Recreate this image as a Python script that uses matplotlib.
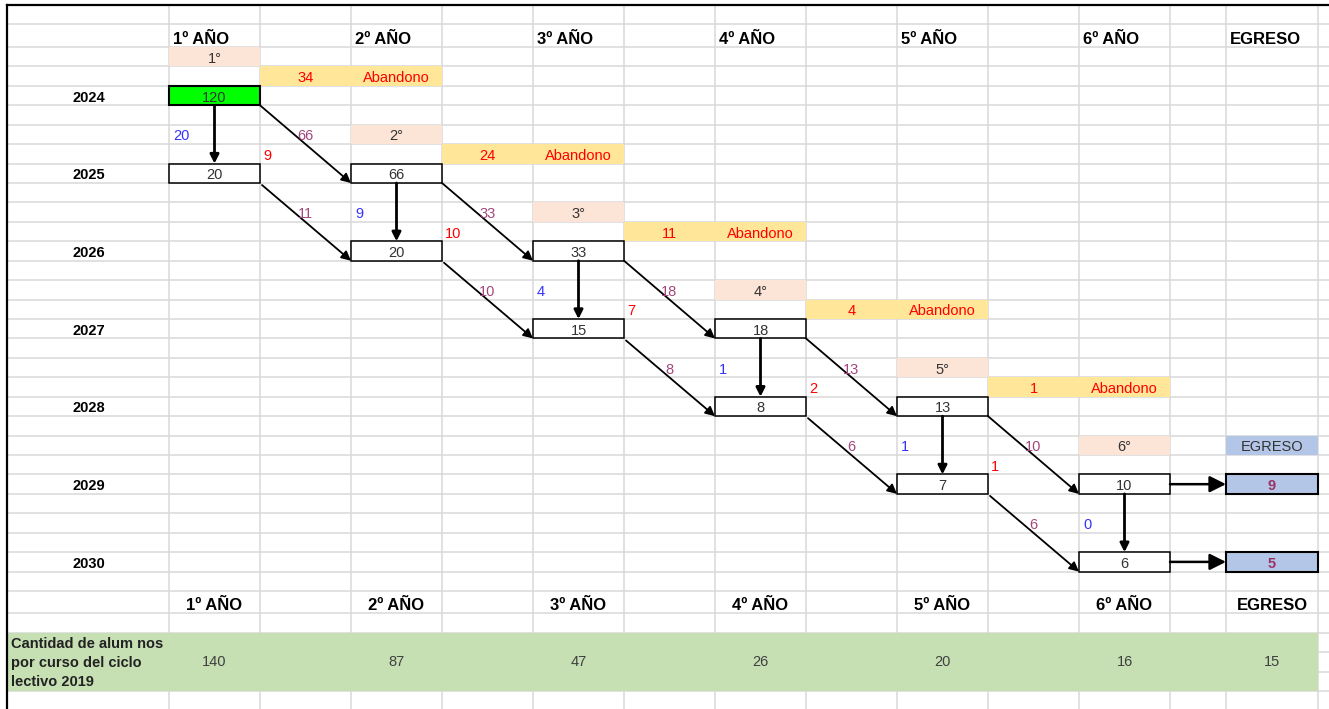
import matplotlib.pyplot as plt
from matplotlib.patches import Rectangle
import numpy as np

plt.rcParams['font.family'] = ['Liberation Sans', 'DejaVu Sans']

years = ['2024', '2025', '2026', '2027', '2028', '2029', '2030']
headers = ['1º AÑO', '2º AÑO', '3º AÑO', '4º AÑO', '5º AÑO', '6º AÑO', 'EGRESO']
courses = ['1°', '2°', '3°', '4°', '5°', '6°']

# alumnos que llegan a cada curso por primera vez (diagonal de la cohorte)
cohort = [120, 66, 33, 18, 13, 10]
# alumnos que recursan el mismo año al ciclo siguiente
repeaters = [20, 20, 15, 8, 7, 6]
# flujos entre cajas
repeat_flow = [20, 9, 4, 1, 1, 0]
promoted_flow = [66, 33, 18, 13, 10]
promoted_rep_flow = [11, 10, 8, 6, 6]
dropout_rep = [9, 10, 7, 2, 1]
dropout = [34, 24, 11, 4, 1]
graduates = [9, 5]
totals_label = ['Cantidad de alum nos', 'por curso del ciclo', 'lectivo 2019']
totals_2019 = [140, 87, 47, 26, 20, 16, 15]

# spreadsheet grid (pixels)
col_w = [161] + [91] * 11 + [56, 92, 30]
row_h = [19, 23] + [19.43] * 28 + [22, 20] + [19.33] * 3 + [22]
xe = 8 + np.concatenate([[0], np.cumsum(col_w)])
ye = 5 + np.concatenate([[0], np.cumsum(row_h)])

GRID = '#D9D9D9'
PEACH = '#FCE4D6'
YELLOW = '#FFE699'
GREEN = '#C6E0B4'
LBLUE = '#B4C6E7'
RED = '#FF0000'
BLUE = '#3333FF'
PURPLE = '#A3467D'
DARK = '#333333'

fig = plt.figure(figsize=(13.29, 7.09), dpi=100)
ax = fig.add_axes([0, 0, 1, 1])
ax.set_xlim(0, 1329)
ax.set_ylim(709, 0)
ax.axis('off')

for x in xe[1:]:
    ax.plot([x, x], [5, 709], color=GRID, lw=1.1, zorder=0)
for y in ye[1:]:
    ax.plot([8, 1329], [y, y], color=GRID, lw=1.1, zorder=0)
ax.plot([7, 1329], [5, 5], color='black', lw=1.6, zorder=5)
ax.plot([7, 7], [5, 709], color='black', lw=1.6, zorder=5)


def mid(a, b):
    return (a + b) / 2


def fill(c, r, color, nc=1, nr=1):
    ax.add_patch(Rectangle((xe[c], ye[r]), xe[c + nc] - xe[c], ye[r + nr] - ye[r],
                           fc=color, ec='none', zorder=1))


def label(c, r, s, ha='center', nc=1, pad=4, dy=2, **kw):
    x = mid(xe[c], xe[c + nc]) if ha == 'center' else xe[c] + pad
    kw.setdefault('fontsize', 10.5)
    kw.setdefault('color', DARK)
    ax.text(x, mid(ye[r], ye[r + 1]) + dy, s, ha=ha, va='center', zorder=6, **kw)


def box(c, r, val, fc='white', lw=1.1, **kw):
    ax.add_patch(Rectangle((xe[c], ye[r]), xe[c + 1] - xe[c], ye[r + 1] - ye[r],
                           fc=fc, ec='black', lw=lw, zorder=3))
    label(c, r, str(val), **kw)


def arrow(p0, p1, lw=1.3, style='-|>', ms=14):
    ax.annotate('', xy=p1, xytext=p0, zorder=4,
                arrowprops=dict(arrowstyle=style, lw=lw, color='black',
                                shrinkA=0, shrinkB=0, mutation_scale=ms))


# headers and year labels
for i, h in enumerate(headers):
    c = 2 * i + 1 if i < 6 else 13
    label(c, 1, h, ha='left', dy=4, fontsize=12, fontweight='bold', color='black')
    label(c, 30, h, dy=3.5, fontsize=12, fontweight='bold', color='black')
for k, yr in enumerate(years):
    label(0, 4 + 4 * k, yr, fontweight='bold', color='black')

# course tags and dropout bands
for i, cs in enumerate(courses):
    fill(2 * i + 1, 2 + 4 * i, PEACH)
    label(2 * i + 1, 2 + 4 * i, cs)
for i, d in enumerate(dropout):
    fill(2 * i + 2, 3 + 4 * i, YELLOW, nc=2)
    label(2 * i + 2, 3 + 4 * i, str(d), color=RED)
    label(2 * i + 3, 3 + 4 * i, 'Abandono', color=RED)

# cohort boxes
for i, v in enumerate(cohort):
    box(2 * i + 1, 4 + 4 * i, v, fc='#00FF00' if i == 0 else 'white',
        lw=1.5 if i == 0 else 1.1)
for i, v in enumerate(repeaters):
    box(2 * i + 1, 8 + 4 * i, v)

# flow numbers
for i, v in enumerate(repeat_flow):
    label(2 * i + 1, 6 + 4 * i, str(v), ha='left', color=BLUE)
for i, v in enumerate(promoted_flow):
    label(2 * i + 2, 6 + 4 * i, str(v), color=PURPLE)
for i, v in enumerate(dropout_rep):
    label(2 * i + 2, 7 + 4 * i, str(v), ha='left', pad=3, color=RED)
for i, v in enumerate(promoted_rep_flow):
    label(2 * i + 2, 10 + 4 * i, str(v), color=PURPLE)

# arrows: repeat (vertical), promotion (diagonal)
for i in range(len(cohort)):
    c, r = 2 * i + 1, 4 + 4 * i
    xc = mid(xe[c], xe[c + 1])
    arrow((xc, ye[r + 1]), (xc, ye[r + 4]), lw=2.0, ms=13)
for i in range(len(promoted_flow)):
    c, r = 2 * i + 1, 4 + 4 * i
    arrow((xe[c + 1], ye[r + 1]), (xe[c + 2], ye[r + 5]), lw=1.3)
for i in range(len(promoted_rep_flow)):
    c, r = 2 * i + 1, 8 + 4 * i
    arrow((xe[c + 1] + 2, ye[r + 1] + 2), (xe[c + 2], ye[r + 5]), lw=1.3)

# graduates
fill(13, 22, LBLUE)
label(13, 22, 'EGRESO')
for g, r in zip(graduates, (24, 28)):
    box(13, r, g, fc=LBLUE, lw=1.5, fontweight='bold', color='#993366')
    yc = mid(ye[r], ye[r + 1])
    arrow((xe[12], yc), (xe[13], yc), lw=1.8,
          style='-|>,head_length=0.7,head_width=0.35', ms=14)

# totals of 2019
fill(0, 32, GREEN, nc=14, nr=3)
for j, t in enumerate(totals_label):
    label(0, 32 + j, t, ha='left', pad=3, dy=1, fontweight='bold', color='#222222')
for i, t in enumerate(totals_2019):
    c = 2 * i + 1 if i < 6 else 13
    ax.text(mid(xe[c], xe[c + 1]), mid(ye[32], ye[35]), str(t), ha='center',
            va='center', fontsize=10.5, color='#404040', zorder=6)

fig.savefig('out.png', dpi=100)
